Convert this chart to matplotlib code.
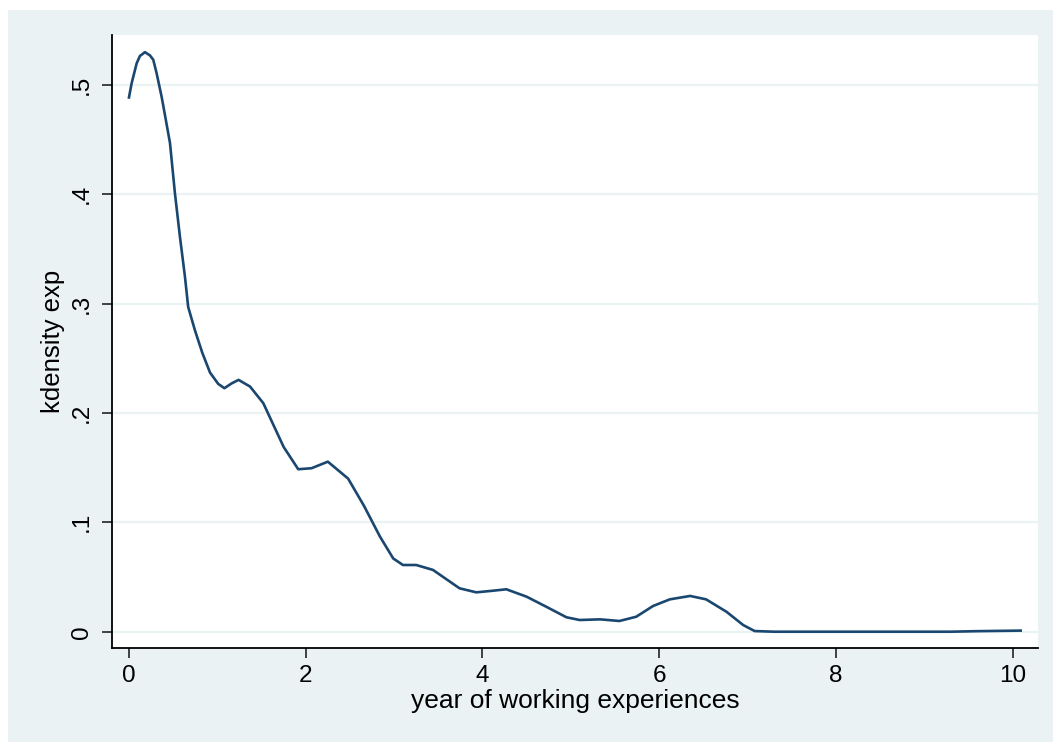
import matplotlib
matplotlib.use("Agg")
import matplotlib.pyplot as plt
from matplotlib.patches import Rectangle

plt.rcParams['font.family'] = ['Liberation Sans', 'DejaVu Sans']

exp_x = [0.0, 0.03, 0.087, 0.124, 0.181, 0.238, 0.275, 0.313, 0.37, 0.407, 0.464,
         0.52, 0.577, 0.633, 0.67, 0.745,
         0.83, 0.917, 1.01, 1.08, 1.16, 1.24, 1.37, 1.52, 1.75, 1.915, 2.066, 2.25,
         2.48, 2.66, 2.84, 2.99, 3.10, 3.25, 3.44, 3.74, 3.93, 4.12, 4.27, 4.50,
         4.72, 4.95, 5.10, 5.33, 5.55, 5.74, 5.93, 6.12, 6.35, 6.53, 6.76, 6.95,
         7.08, 7.3, 9.3, 9.6, 10.09]
density = [0.4886, 0.5015, 0.5198, 0.5265, 0.530, 0.527, 0.523, 0.5107, 0.489, 0.4726, 0.447,
           0.401, 0.361, 0.325, 0.297, 0.276,
           0.255, 0.237, 0.2266, 0.2227, 0.227, 0.2303, 0.2242, 0.209, 0.169, 0.1486, 0.1495, 0.1555,
           0.140, 0.115, 0.087, 0.067, 0.061, 0.061, 0.0565, 0.0397, 0.036, 0.0375, 0.0388, 0.032,
           0.0229, 0.0132, 0.0107, 0.0113, 0.0098, 0.0137, 0.0235, 0.0296, 0.0327, 0.0296, 0.0183, 0.0061,
           0.0006, 0.0, 0.0, 0.0005, 0.001]
x_ticks = [0, 2, 4, 6, 8, 10]
y_ticks = [0, 0.1, 0.2, 0.3, 0.4, 0.5]
y_tick_labels = ["0", ".1", ".2", ".3", ".4", ".5"]

W, H = 1053, 742
bg = '#eaf2f3'
fig = plt.figure(figsize=(W/100, H/100), dpi=100, facecolor=bg)
fig.patches.append(Rectangle((0, 0), 8/W, 1, transform=fig.transFigure,
                             facecolor='white', edgecolor='none'))
fig.patches.append(Rectangle((0, (H-10)/H), 1, 10/H, transform=fig.transFigure,
                             facecolor='white', edgecolor='none'))

ax = fig.add_axes([112/W, (H-648)/H, (1038-112)/W, (648-35)/H])
ax.set_facecolor('white')
ax.plot(exp_x, density, color='#1a476f', lw=1.9, zorder=3)

ax.set_xlim(-0.192, 10.286)
ax.set_ylim(-0.0149, 0.5457)
ax.set_xticks(x_ticks)
ax.set_yticks(y_ticks)
ax.set_yticklabels(y_tick_labels, rotation=90, va='center')
for y in y_ticks:
    ax.axhline(y, color=bg, lw=1.6, zorder=1)

for s in ['top', 'right']:
    ax.spines[s].set_visible(False)
for s in ['left', 'bottom']:
    ax.spines[s].set_color('black')
    ax.spines[s].set_linewidth(1.3)

ax.tick_params(axis='both', direction='out', length=7, width=1.3, color='#333333',
               labelsize=17.5, labelcolor='black')
ax.tick_params(axis='y', pad=7)
ax.tick_params(axis='x', pad=5)

ax.set_xlabel('year of working experiences', fontsize=19, color='black', labelpad=2)
ax.set_ylabel('kdensity exp', fontsize=18.5, color='black')
ax.yaxis.set_label_coords(-0.051, 0.5)

fig.savefig('out.png', dpi=100, facecolor=fig.get_facecolor())
